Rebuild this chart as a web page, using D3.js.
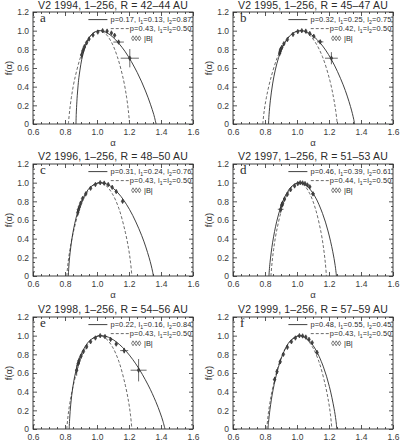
<!DOCTYPE html>
<html>
<head>
<meta charset="utf-8">
<script src="https://cdn.jsdelivr.net/npm/d3@7"></script>
<style>
  body { margin: 0; background: #fff; }
  svg { display: block; font-family: "Liberation Sans", Arial, sans-serif; }
</style>
</head>
<body>
<svg id="chart" width="405" height="448"></svg>
<script>
// ---- data ----
const letters = ["a", "b", "c", "d", "e", "f"];
const years = ["1994", "1995", "1996", "1997", "1998", "1999"];
const ranges = ["42–44", "45–47", "48–50", "51–53", "54–56", "57–59"];
const solidP = ["0.17", "0.32", "0.31", "0.46", "0.22", "0.48"];
const solidL1 = ["0.13", "0.25", "0.24", "0.39", "0.16", "0.55"];
const solidL2 = ["0.87", "0.75", "0.76", "0.61", "0.84", "0.45"];
const dashP = ["0.43", "0.42", "0.43", "0.44", "0.43", "0.43"];

const xTicks = [0.6, 0.8, 1.0, 1.2, 1.4, 1.6];
const yTicks = [0, 0.2, 0.4, 0.6, 0.8, 1.0, 1.2];

// dashed curves: f values shared, alpha per panel
const dashF = [0, 0.141, 0.286, 0.469, 0.722, 0.881, 0.971, 1, 0.971, 0.881, 0.722, 0.469, 0.286, 0.141, 0];
const dashAlphaA = [0.821, 0.829, 0.840, 0.859, 0.898, 0.936, 0.974, 1.013, 1.051, 1.089, 1.127, 1.166, 1.185, 1.196, 1.204];
const dashAlphaB = [0.786, 0.795, 0.809, 0.833, 0.879, 0.926, 0.972, 1.019, 1.065, 1.112, 1.159, 1.205, 1.228, 1.242, 1.252];
const dashAlphaC = [0.811, 0.819, 0.831, 0.852, 0.892, 0.933, 0.974, 1.015, 1.055, 1.096, 1.137, 1.177, 1.198, 1.210, 1.218];
const dashAlphaD = [0.837, 0.844, 0.854, 0.871, 0.906, 0.941, 0.976, 1.011, 1.045, 1.080, 1.115, 1.150, 1.167, 1.177, 1.184];
const dashAlphaE = [0.811, 0.819, 0.831, 0.852, 0.892, 0.933, 0.974, 1.015, 1.055, 1.096, 1.137, 1.177, 1.198, 1.210, 1.218];
const dashAlphaF = [0.811, 0.819, 0.831, 0.852, 0.892, 0.933, 0.974, 1.015, 1.055, 1.096, 1.137, 1.177, 1.198, 1.210, 1.218];

// solid curves [alpha, f]
const solidA = [[0.8686, 0], [0.8702, 0.102], [0.8722, 0.176], [0.8765, 0.302], [0.8819, 0.416], [0.889, 0.526], [0.9122, 0.748], [0.9483, 0.915], [0.980, 0.979], [1.0157, 1.0], [1.0501, 0.987], [1.0992, 0.931], [1.1742, 0.780], [1.251, 0.553], [1.3031, 0.354], [1.3339, 0.212], [1.3549, 0.101], [1.3695, 0]];
const solidB = [[0.8219, 0], [0.8252, 0.0996], [0.8336, 0.2547], [0.8475, 0.429], [0.8643, 0.578], [0.885, 0.711], [0.911, 0.828], [0.9662, 0.9631], [1.021, 1.0], [1.0772, 0.971], [1.1418, 0.8746], [1.2135, 0.6956], [1.2884, 0.420], [1.3342, 0.1875], [1.3546, 0.050], [1.3598, 0]];
const solidC = [[0.8207, 0], [0.8238, 0.0968], [0.8318, 0.2478], [0.8451, 0.4182], [0.8612, 0.565], [0.8811, 0.6967], [0.9064, 0.8147], [0.9606, 0.9552], [1.0219, 1.0], [1.069, 0.978], [1.1318, 0.889], [1.2028, 0.7142], [1.2787, 0.4361], [1.3258, 0.1958], [1.3469, 0.0522], [1.3524, 0]];
const solidD = [[0.8247, 0], [0.8269, 0.0598], [0.8314, 0.1452], [0.8479, 0.3625], [0.8736, 0.5872], [0.9022, 0.7566], [0.934, 0.8824], [0.9699, 0.9654], [1.0149, 1.0], [1.057, 0.972], [1.1105, 0.8572], [1.1596, 0.6696], [1.1937, 0.4825], [1.2231, 0.2654], [1.2386, 0.1123], [1.2466, 0]];
const solidE = [[0.8262, 0], [0.8292, 0.1134], [0.8361, 0.2669], [0.8497, 0.4576], [0.8695, 0.6334], [0.901, 0.8034], [0.9592, 0.9548], [1.0257, 1.0], [1.0866, 0.9711], [1.1605, 0.8731], [1.2426, 0.6977], [1.3192, 0.4721], [1.3675, 0.2932], [1.3949, 0.1723], [1.4125, 0.0812], [1.4249, 0]];
const solidF = [[0.8189, 0], [0.822, 0.0703], [0.8313, 0.2125], [0.8503, 0.4176], [0.8834, 0.6598], [0.9182, 0.8275], [0.9551, 0.937], [1.0143, 1.0], [1.0611, 0.9692], [1.1107, 0.8678], [1.1634, 0.6732], [1.2024, 0.4541], [1.2313, 0.2232], [1.2432, 0.0934], [1.2491, 0]];

// |B| points [alpha, f, alpha error, f error]
const pointsA = [[0.904, 0.74, 0.005, 0.04], [0.912, 0.785, 0.005, 0.035], [0.921, 0.825, 0.004, 0.03], [0.935, 0.87, 0.004, 0.02], [0.95, 0.91, 0.003, 0.015], [0.975, 0.953, 0.003, 0.01], [1.005, 0.985, 0.003, 0.006], [1.035, 1.0, 0.003, 0.005], [1.063, 0.995, 0.003, 0.006], [1.09, 0.975, 0.004, 0.008], [1.11, 0.95, 0.006, 0.01], [1.135, 0.878, 0.033, 0.02], [1.205, 0.705, 0.057, 0.098]];
const pointsB = [[0.892, 0.76, 0.004, 0.03], [0.895, 0.78, 0.004, 0.03], [0.898, 0.80, 0.004, 0.025], [0.905, 0.82, 0.004, 0.02], [0.918, 0.86, 0.003, 0.015], [0.94, 0.905, 0.003, 0.01], [0.975, 0.96, 0.003, 0.008], [1.005, 0.99, 0.003, 0.005], [1.03, 1.0, 0.003, 0.005], [1.055, 0.995, 0.003, 0.006], [1.08, 0.97, 0.004, 0.008], [1.105, 0.94, 0.006, 0.01], [1.145, 0.88, 0.02, 0.02], [1.215, 0.705, 0.04, 0.065]];
const pointsC = [[0.88, 0.68, 0.003, 0.035], [0.884, 0.71, 0.003, 0.03], [0.89, 0.74, 0.003, 0.025], [0.898, 0.78, 0.003, 0.02], [0.91, 0.83, 0.003, 0.015], [0.93, 0.88, 0.003, 0.01], [0.96, 0.94, 0.003, 0.008], [0.99, 0.98, 0.003, 0.005], [1.02, 1.0, 0.003, 0.005], [1.045, 0.995, 0.003, 0.005], [1.07, 0.98, 0.003, 0.006], [1.095, 0.95, 0.004, 0.008], [1.12, 0.905, 0.005, 0.01], [1.16, 0.80, 0.006, 0.012]];
const pointsD = [[0.898, 0.715, 0.018, 0.04], [0.905, 0.76, 0.01, 0.03], [0.91, 0.78, 0.008, 0.025], [0.922, 0.825, 0.005, 0.02], [0.94, 0.875, 0.004, 0.012], [0.96, 0.925, 0.003, 0.008], [0.985, 0.965, 0.003, 0.006], [1.005, 0.99, 0.003, 0.005], [1.02, 1.0, 0.003, 0.005], [1.035, 0.997, 0.003, 0.005], [1.05, 0.99, 0.003, 0.006], [1.065, 0.975, 0.003, 0.008], [1.08, 0.955, 0.004, 0.01], [1.10, 0.88, 0.012, 0.015]];
const pointsE = [[0.873, 0.63, 0.008, 0.06], [0.882, 0.70, 0.005, 0.04], [0.888, 0.73, 0.005, 0.035], [0.9, 0.78, 0.004, 0.02], [0.915, 0.83, 0.003, 0.015], [0.935, 0.88, 0.003, 0.01], [0.96, 0.935, 0.003, 0.008], [0.99, 0.975, 0.003, 0.005], [1.02, 1.0, 0.003, 0.005], [1.05, 0.99, 0.003, 0.005], [1.085, 0.96, 0.004, 0.008], [1.12, 0.91, 0.008, 0.012], [1.17, 0.84, 0.025, 0.03], [1.26, 0.63, 0.05, 0.12]];
const pointsF = [[0.86, 0.53, 0.008, 0.03], [0.875, 0.615, 0.005, 0.025], [0.895, 0.72, 0.004, 0.02], [0.915, 0.80, 0.003, 0.015], [0.94, 0.875, 0.003, 0.01], [0.965, 0.935, 0.003, 0.008], [0.99, 0.975, 0.003, 0.005], [1.015, 1.0, 0.003, 0.005], [1.035, 0.997, 0.003, 0.005], [1.055, 0.985, 0.003, 0.006], [1.075, 0.96, 0.003, 0.008], [1.095, 0.925, 0.004, 0.01], [1.125, 0.82, 0.008, 0.02]];

const dashAlphas = [dashAlphaA, dashAlphaB, dashAlphaC, dashAlphaD, dashAlphaE, dashAlphaF];
const solids = [solidA, solidB, solidC, solidD, solidE, solidF];
const points = [pointsA, pointsB, pointsC, pointsD, pointsE, pointsF];

// ---- layout ----
const colX = [33, 233];
const rowY = [12, 164, 317];
const pw = 160, ph = 112;
const ink = "#2b2b2b";

const svg = d3.select("#chart");

const x = d3.scaleLinear().domain([0.6, 1.6]).range([0, pw]);
const y = d3.scaleLinear().domain([0, 1.2]).range([ph, 0]);

const line = d3.line()
  .x(d => x(d[0]))
  .y(d => y(d[1]))
  .curve(d3.curveCatmullRom.alpha(0.5));

const diamond = d3.symbol().type(d3.symbolDiamond).size(6);

letters.forEach((letter, i) => {
  const row = Math.floor(i / 2);
  const ox = colX[i % 2], oy = rowY[row];
  const g = svg.append("g").attr("transform", "translate(" + ox + "," + oy + ")");

  // clip so the curves stay in the box
  g.append("clipPath").attr("id", "clip" + i)
    .append("rect").attr("width", pw).attr("height", ph);

  // title (centered over the box)
  g.append("text")
    .attr("x", pw / 2).attr("y", row === 0 ? -3 : -4)
    .attr("text-anchor", "middle")
    .attr("font-size", 10.5)
    .attr("letter-spacing", 0.15)
    .attr("fill", ink)
    .text("V2 " + years[i] + ", 1–256, R = " + ranges[i] + " AU");

  // major + minor ticks, IDL style (inside, all four sides)
  const minorX = d3.range(0.65, 1.6, 0.05).filter(v => Math.abs(v * 5 - Math.round(v * 5)) > 1e-6);
  const minorY = d3.range(0.05, 1.2, 0.05).filter(v => Math.abs(v * 5 - Math.round(v * 5)) > 1e-6);

  g.append("g").attr("transform", "translate(0," + ph + ")")
    .call(d3.axisBottom(x).tickValues(xTicks).tickSize(-4).tickPadding(5).tickFormat(d3.format(".1f")));
  g.append("g").attr("transform", "translate(0," + ph + ")")
    .call(d3.axisBottom(x).tickValues(minorX).tickSize(-2).tickFormat(""));
  g.append("g").call(d3.axisTop(x).tickValues(xTicks).tickSize(-4).tickFormat(""));
  g.append("g").call(d3.axisTop(x).tickValues(minorX).tickSize(-2).tickFormat(""));

  g.append("g")
    .call(d3.axisLeft(y).tickValues(yTicks).tickSize(-4).tickPadding(4)
      .tickFormat(d => d === 0 ? "0" : d.toFixed(1)));
  g.append("g").call(d3.axisLeft(y).tickValues(minorY).tickSize(-2).tickFormat(""));
  g.append("g").attr("transform", "translate(" + pw + ",0)")
    .call(d3.axisRight(y).tickValues(yTicks).tickSize(-4).tickFormat(""));
  g.append("g").attr("transform", "translate(" + pw + ",0)")
    .call(d3.axisRight(y).tickValues(minorY).tickSize(-2).tickFormat(""));

  g.selectAll(".domain").remove();
  g.selectAll(".tick line").attr("stroke", ink).attr("stroke-width", 0.8);
  g.selectAll(".tick text").attr("fill", "#3a3a3a").attr("font-size", 8.5)
    .attr("font-family", "Liberation Sans, Arial, sans-serif");

  // frame
  g.append("rect").attr("width", pw).attr("height", ph)
    .attr("fill", "none").attr("stroke", ink).attr("stroke-width", 0.9);

  // axis titles (bottom row's α falls below the picture)
  if (row < 2) {
    g.append("text")
      .attr("x", pw / 2).attr("y", ph + 22)
      .attr("text-anchor", "middle").attr("font-size", 9.5).attr("fill", "#3a3a3a")
      .text("α");
  }
  g.append("text")
    .attr("transform", "translate(-21," + (ph / 2) + ") rotate(-90)")
    .attr("text-anchor", "middle").attr("font-size", 9.5).attr("fill", "#3a3a3a")
    .text("f(α)");

  // panel letter
  g.append("text")
    .attr("x", 7).attr("y", 10)
    .attr("font-family", "Liberation Serif, Times New Roman, serif")
    .attr("font-size", 13).attr("fill", ink)
    .text(letter);

  // curves
  const dashData = dashAlphas[i].map((a, k) => [a, dashF[k]]);
  g.append("path")
    .datum(dashData)
    .attr("clip-path", "url(#clip" + i + ")")
    .attr("fill", "none").attr("stroke", "#5a5a5a").attr("stroke-width", 0.9)
    .attr("stroke-dasharray", "3,2")
    .attr("d", line);
  g.append("path")
    .datum(solids[i])
    .attr("clip-path", "url(#clip" + i + ")")
    .attr("fill", "none").attr("stroke", ink).attr("stroke-width", 0.9)
    .attr("d", line);

  // error bars and diamonds
  const pg = g.append("g").selectAll("g").data(points[i]).enter().append("g");
  pg.append("line")
    .attr("x1", d => x(d[0] - d[2])).attr("x2", d => x(d[0] + d[2]))
    .attr("y1", d => y(d[1])).attr("y2", d => y(d[1]))
    .attr("stroke", ink).attr("stroke-width", 0.7);
  pg.append("line")
    .attr("x1", d => x(d[0])).attr("x2", d => x(d[0]))
    .attr("y1", d => y(d[1] - d[3])).attr("y2", d => y(d[1] + d[3]))
    .attr("stroke", ink).attr("stroke-width", 0.7);
  pg.append("path")
    .attr("transform", d => "translate(" + x(d[0]) + "," + y(d[1]) + ")")
    .attr("d", diamond)
    .attr("fill", "#444").attr("stroke", ink).attr("stroke-width", 0.6);

  // legend
  const fs = 7.4;
  function legendText(yy, parts) {
    const t = g.append("text")
      .attr("x", pw - 1.5).attr("y", yy)
      .attr("text-anchor", "end")
      .attr("font-size", fs).attr("letter-spacing", 0.15).attr("fill", ink);
    let shifted = false;
    parts.forEach(p => {
      const ts = t.append("tspan").text(p.t);
      if (p.sub) { ts.attr("font-size", 5.2).attr("dy", 1.5); shifted = true; }
      else if (shifted) { ts.attr("dy", -1.5); shifted = false; }
    });
    return t.node().getComputedTextLength();
  }
  const w1 = legendText(10.3, [
    { t: "p=" + solidP[i] + ", l" }, { t: "1", sub: true },
    { t: "=" + solidL1[i] + ", l" }, { t: "2", sub: true },
    { t: "=" + solidL2[i] }]);
  g.append("line")
    .attr("x1", pw - 1.5 - w1 - 22).attr("x2", pw - 1.5 - w1 - 3)
    .attr("y1", 7.6).attr("y2", 7.6)
    .attr("stroke", ink).attr("stroke-width", 0.9);

  const w2 = legendText(19.3, [
    { t: "p=" + dashP[i] + ", l" }, { t: "1", sub: true },
    { t: "=l" }, { t: "2", sub: true }, { t: "=0.50" }]);
  g.append("line")
    .attr("x1", pw - 1.5 - w2 - 19).attr("x2", pw - 1.5 - w2 - 1)
    .attr("y1", 16.6).attr("y2", 16.6)
    .attr("stroke", "#5a5a5a").attr("stroke-width", 0.9)
    .attr("stroke-dasharray", "3,2");

  [0, 3.2, 6.4].forEach(dx => {
    g.append("path")
      .attr("transform", "translate(" + (pw - 60 + dx) + ",26.3)")
      .attr("d", d3.symbol().type(d3.symbolDiamond).size(7))
      .attr("fill", "none").attr("stroke", ink).attr("stroke-width", 0.6);
  });
  g.append("text")
    .attr("x", pw - 49).attr("y", 28.8)
    .attr("font-size", fs).attr("fill", ink)
    .text("|B|");
});
</script>
</body>
</html>
